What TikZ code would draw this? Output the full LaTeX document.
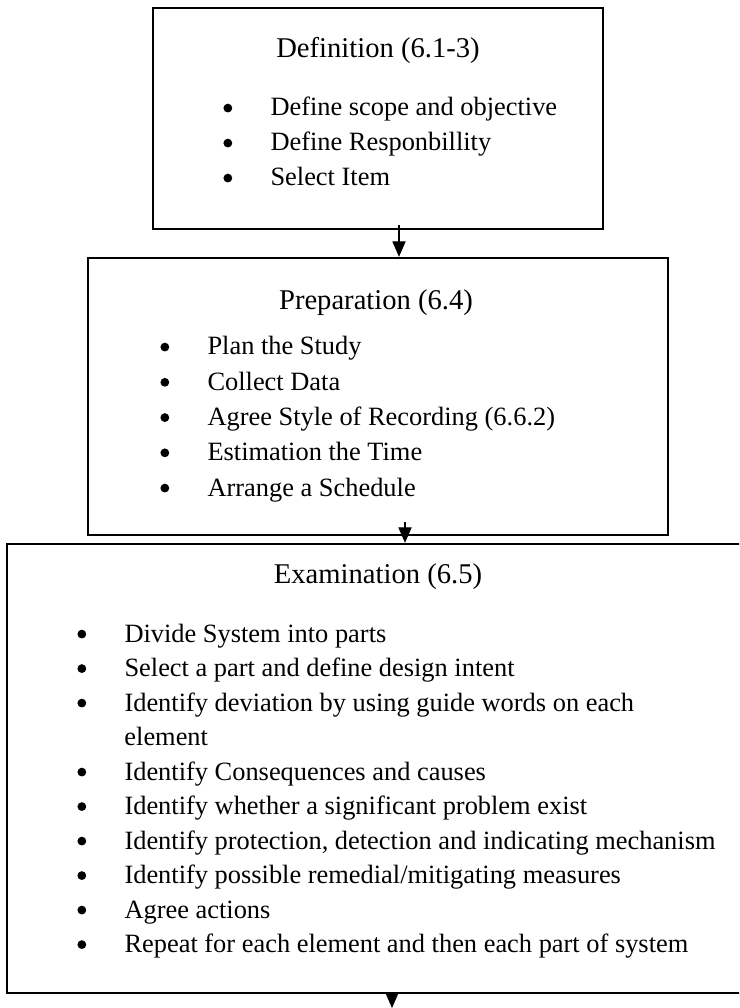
\documentclass[tikz,border=0pt]{standalone}
\usepackage{fontspec}
\setmainfont{Liberation Serif}
\usetikzlibrary{arrows.meta,fit}
% round bullet with a fixed hanging indent
\newcommand{\blt}{\makebox[21.4pt][l]{\tikz[baseline=0pt]\fill (2.2pt,3.6pt) circle[radius=2pt];}}
\tikzset{
  stagebox/.style={draw, line width=1.1pt, inner sep=0pt},
  stagetitle/.style={anchor=base, inner sep=0pt, font=\fontsize{13}{15}\selectfont},
  entry/.style={anchor=base west, inner sep=0pt, font=\fontsize{12}{14}\selectfont},
  flow/.style={line width=0.5pt, -{Triangle[width=6pt,length=7pt]}},
}
\begin{document}
\begin{tikzpicture}[x=0.4545pt,y=-0.4545pt]
\useasboundingbox (0,0) rectangle (739,1008);
\fill[white] (0,0) rectangle (739,1008);
\clip (0,0) rectangle (739,1008);

% ---- stage boxes
\node[stagebox, fit={(153,8) (603,229)}] (defbox) {};
\node[stagebox, fit={(88,258) (668,535)}] (prepbox) {};
\node[stagebox, fit={(7,544) (749,993)}] (exambox) {};

% ---- Definition
\node[stagetitle] (deft) at (378,58) {Definition (6.1-3)};
\node[entry] (d1) at (223,116) {\blt Define scope and objective};
\node[entry] (d2) at (223,151) {\blt Define Responbillity};
\node[entry] (d3) at (223,186) {\blt Select Item};

% ---- Preparation
\node[stagetitle] (prept) at (376,310) {Preparation (6.4)};
\node[entry] (p1) at (160,355) {\blt Plan the Study};
\node[entry] (p2) at (160,390.25) {\blt Collect Data};
\node[entry] (p3) at (160,425.5) {\blt Agree Style of Recording (6.6.2)};
\node[entry] (p4) at (160,460.75) {\blt Estimation the Time};
\node[entry] (p5) at (160,496) {\blt Arrange a Schedule};

% ---- Examination
\node[stagetitle] (examt) at (378,583) {Examination (6.5)};
\node[entry] (e1) at (77,642) {\blt Divide System into parts};
\node[entry] (e2) at (77,676.5) {\blt Select a part and define design intent};
\node[entry] (e3) at (77,711) {\blt Identify deviation by using guide words on each};
\node[entry] (e3b) at (124,745.5) {element};
\node[entry] (e4) at (77,780) {\blt Identify Consequences and causes};
\node[entry] (e5) at (77,814.5) {\blt Identify whether a significant problem exist};
\node[entry] (e6) at (77,849) {\blt Identify protection, detection and indicating mechanism};
\node[entry] (e7) at (77,883.5) {\blt Identify possible remedial/mitigating measures};
\node[entry] (e8) at (77,918) {\blt Agree actions};
\node[entry] (e9) at (77,952.5) {\blt Repeat for each element and then each part of system};

% ---- connectors
\coordinate (c1) at (399,225);
\coordinate (c2) at (405,522);
\coordinate (c3) at (392,993);
\coordinate (out) at (392,1008);
\draw[flow] (c1) -- (prepbox.north -| c1);
\draw[flow] (c2) -- (exambox.north -| c2);
\draw[flow] (exambox.south -| c3) -- (out);
\end{tikzpicture}
\end{document}
